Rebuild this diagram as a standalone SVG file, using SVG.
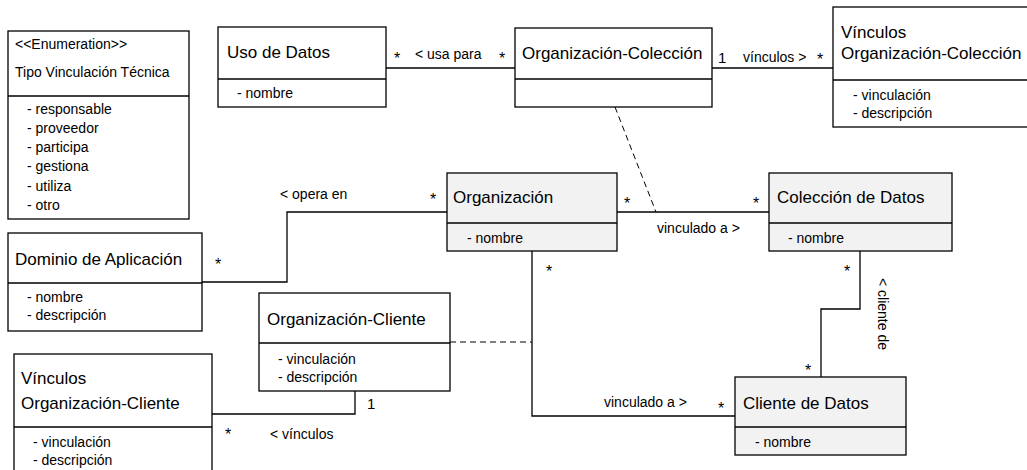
<svg xmlns="http://www.w3.org/2000/svg" width="1027" height="470" viewBox="0 0 1027 470">
<style>
  .box { fill: #ffffff; stroke: #000000; stroke-width: 1.3; }
  .gbox { fill: #f2f2f2; stroke: #000000; stroke-width: 1.3; }
  .div { stroke: #000000; stroke-width: 1.3; fill: none; }
  .t { font-family: "Liberation Sans", Arial, sans-serif; font-size: 17px; fill: #000000; }
  .a { font-family: "Liberation Sans", Arial, sans-serif; font-size: 14px; fill: #000000; }
  .m { font-family: "Liberation Sans", Arial, sans-serif; font-size: 16px; fill: #000000; text-anchor: middle; }
  .one { font-family: "Liberation Sans", Arial, sans-serif; font-size: 15px; fill: #000000; }
  .ln { stroke: #000000; stroke-width: 1.3; fill: none; }
  .dash { stroke: #000000; stroke-width: 1; fill: none; stroke-dasharray: 6 4; }
</style>
<rect width="1027" height="470" fill="#ffffff"/>

<g id="connectors">
  <line class="ln" x1="386" y1="68" x2="515" y2="68"/>
  <line class="ln" x1="712" y1="68" x2="833" y2="68"/>
  <line class="dash" x1="615" y1="107" x2="656" y2="212"/>
  <line class="ln" x1="617" y1="212" x2="769" y2="212"/>
  <polyline class="ln" points="202,282 287,282 287,212 447,212"/>
  <polyline class="ln" points="532,251 532,416 735,416"/>
  <polyline class="ln" points="860,251 860,309 821,309 821,377"/>
  <line class="dash" x1="450" y1="342" x2="532" y2="342"/>
  <polyline class="ln" points="212,414 355,414 355,391"/>

  <text class="m" x="397" y="64">*</text>
  <text class="a" x="415" y="59">&lt; usa para</text>
  <text class="m" x="502" y="64">*</text>
  <text class="one" x="718" y="63">1</text>
  <text class="a" x="743" y="62">vínculos &gt;</text>
  <text class="m" x="820" y="65">*</text>
  <text class="m" x="218" y="270">*</text>
  <text class="a" x="280" y="199">&lt; opera en</text>
  <text class="m" x="433" y="205">*</text>
  <text class="m" x="627" y="209">*</text>
  <text class="a" x="657" y="233">vinculado a &gt;</text>
  <text class="m" x="756" y="209">*</text>
  <text class="m" x="549" y="277">*</text>
  <text class="m" x="847" y="277">*</text>
  <text class="a" transform="translate(878,278) rotate(90)">&lt; cliente de</text>
  <text class="m" x="808" y="376">*</text>
  <text class="a" x="604" y="407">vinculado a &gt;</text>
  <text class="m" x="721" y="414">*</text>
  <text class="one" x="367" y="409">1</text>
  <text class="m" x="228" y="440">*</text>
  <text class="a" x="270" y="439">&lt; vínculos</text>
</g>

<g id="enum-tipo-vinculacion">
  <rect class="box" x="8" y="31" width="181" height="188"/>
  <line class="div" x1="8" y1="96" x2="189" y2="96"/>
  <text class="a" x="15" y="49">&lt;&lt;Enumeration&gt;&gt;</text>
  <text class="a" x="15" y="77">Tipo Vinculación Técnica</text>
  <text class="a" x="27" y="114">- responsable</text>
  <text class="a" x="27" y="133">- proveedor</text>
  <text class="a" x="27" y="152">- participa</text>
  <text class="a" x="27" y="171">- gestiona</text>
  <text class="a" x="27" y="191">- utiliza</text>
  <text class="a" x="27" y="210">- otro</text>
</g>

<g id="uso-de-datos">
  <rect class="box" x="218" y="27" width="168" height="80"/>
  <line class="div" x1="218" y1="79" x2="386" y2="79"/>
  <text class="t" x="227" y="58">Uso de Datos</text>
  <text class="a" x="237" y="98">- nombre</text>
</g>

<g id="organizacion-coleccion">
  <rect class="box" x="515" y="28" width="197" height="79"/>
  <line class="div" x1="515" y1="79" x2="712" y2="79"/>
  <text class="t" x="522" y="59">Organización-Colección</text>
</g>

<g id="vinculos-organizacion-coleccion">
  <rect class="box" x="833" y="7" width="200" height="120"/>
  <line class="div" x1="833" y1="80" x2="1033" y2="80"/>
  <text class="t" x="841" y="38">Vínculos</text>
  <text class="t" x="841" y="59">Organización-Colección</text>
  <text class="a" x="853" y="100">- vinculación</text>
  <text class="a" x="853" y="118">- descripción</text>
</g>

<g id="organizacion">
  <rect class="gbox" x="447" y="173" width="170" height="78"/>
  <line class="div" x1="447" y1="223" x2="617" y2="223"/>
  <text class="t" x="453" y="203">Organización</text>
  <text class="a" x="467" y="243">- nombre</text>
</g>

<g id="coleccion-de-datos">
  <rect class="gbox" x="769" y="173" width="183" height="78"/>
  <line class="div" x1="769" y1="223" x2="952" y2="223"/>
  <text class="t" x="777" y="203">Colección de Datos</text>
  <text class="a" x="788" y="243">- nombre</text>
</g>

<g id="dominio-de-aplicacion">
  <rect class="box" x="8" y="233" width="194" height="98"/>
  <line class="div" x1="8" y1="283" x2="202" y2="283"/>
  <text class="t" x="15" y="265">Dominio de Aplicación</text>
  <text class="a" x="27" y="302">- nombre</text>
  <text class="a" x="27" y="320">- descripción</text>
</g>

<g id="organizacion-cliente">
  <rect class="box" x="259" y="293" width="191" height="98"/>
  <line class="div" x1="259" y1="343" x2="450" y2="343"/>
  <text class="t" x="267" y="325">Organización-Cliente</text>
  <text class="a" x="278" y="364">- vinculación</text>
  <text class="a" x="278" y="382">- descripción</text>
</g>

<g id="vinculos-organizacion-cliente">
  <rect class="box" x="14" y="354" width="198" height="130"/>
  <line class="div" x1="14" y1="427" x2="212" y2="427"/>
  <text class="t" x="21" y="384">Vínculos</text>
  <text class="t" x="21" y="409">Organización-Cliente</text>
  <text class="a" x="33" y="447">- vinculación</text>
  <text class="a" x="33" y="465">- descripción</text>
</g>

<g id="cliente-de-datos">
  <rect class="gbox" x="735" y="377" width="171" height="78"/>
  <line class="div" x1="735" y1="427" x2="906" y2="427"/>
  <text class="t" x="743" y="409">Cliente de Datos</text>
  <text class="a" x="755" y="447">- nombre</text>
</g>
</svg>
